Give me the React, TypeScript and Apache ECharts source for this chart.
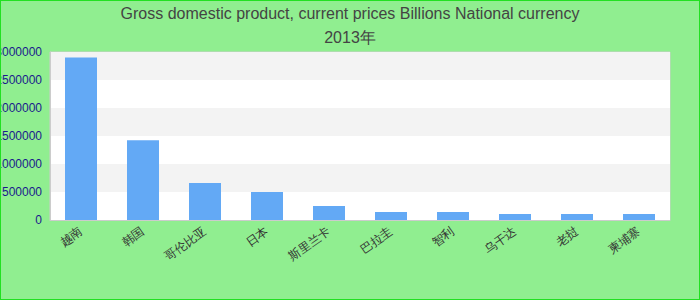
import React, { useEffect, useRef } from "react";
import * as echarts from "echarts";

const titleText = "Gross domestic product, current prices Billions National currency";
const subtitleText = "2013年";
const categories = ["越南", "韩国", "哥伦比亚", "日本", "斯里兰卡", "巴拉圭", "智利", "乌干达", "老挝", "柬埔寨"];
const values = [2900000, 1426000, 660000, 500000, 250000, 143000, 143000, 107000, 107000, 107000];
const yMin = 0;
const yMax = 3000000;
const yInterval = 500000;

export default function App() {
  const ref = useRef<HTMLDivElement>(null);
  useEffect(() => {
    document.body.style.margin = "0";
    const chart = echarts.init(ref.current!, null, { renderer: "svg" });
    const font = "'Liberation Sans', Arial, sans-serif";
    chart.setOption({
      animation: false,
      backgroundColor: "#90EE90",
      textStyle: { fontFamily: font },
      title: {
        text: titleText + "\n" + subtitleText,
        left: "center",
        top: 0,
        padding: [0, 5],
        textStyle: { fontSize: 16, fontWeight: "normal", color: "#444", fontFamily: font, lineHeight: 24 },
      },
      grid: {
        left: 49,
        right: 29,
        top: 51,
        bottom: 79,
        containLabel: false,
        outerBoundsMode: "none",
        show: true,
        backgroundColor: "#fff",
        borderColor: "#ccc",
        borderWidth: 1,
      },
      xAxis: {
        type: "category",
        data: categories,
        axisTick: { show: false },
        axisLine: { lineStyle: { color: "#ccc" } },
        axisLabel: { rotate: 35, interval: 0, color: "#333", fontSize: 12, margin: 10, fontFamily: font },
      },
      yAxis: {
        type: "value",
        min: yMin,
        max: yMax,
        interval: yInterval,
        axisLine: { show: true, lineStyle: { color: "#ccc" } },
        axisTick: { show: false },
        splitLine: { show: false },
        splitArea: { show: true, areaStyle: { color: ["#ffffff", "#f3f3f3"] } },
        axisLabel: {
          color: "#1a1a8c",
          fontSize: 12,
          margin: 8,
          fontFamily: font,
          formatter: (v: number) => String(v),
        },
      },
      series: [
        {
          type: "bar",
          data: values,
          barWidth: 32,
          itemStyle: { color: "#63a9f5" },
        },
      ],
    });
    return () => chart.dispose();
  }, []);
  return (
    <div
      style={{
        position: "absolute",
        left: 0,
        top: 0,
        width: 700,
        height: 300,
        boxSizing: "border-box",
        border: "1px solid #22e022",
      }}
    >
      <div ref={ref} style={{ width: 698, height: 298 }} />
    </div>
  );
}
